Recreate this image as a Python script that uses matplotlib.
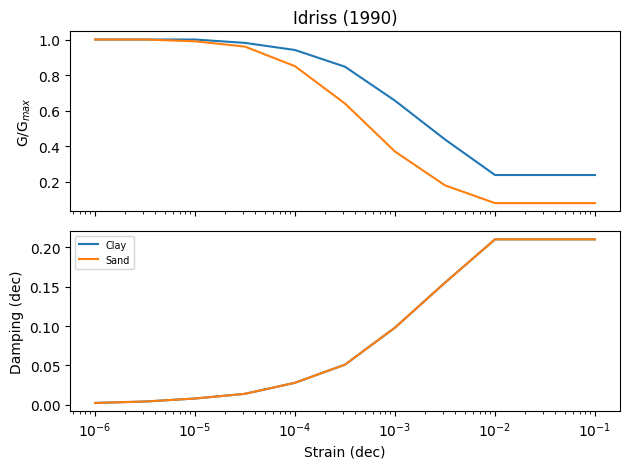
import matplotlib
matplotlib.use("Agg")
import matplotlib.pyplot as plt

# Idriss (1990) curves
strains = [1e-6, 3.16e-6, 1e-5, 3.16e-5, 1e-4, 3.16e-4, 1e-3, 3.16e-3, 1e-2, 1e-1]
clay_mod_reduc = [1.0, 1.0, 1.0, 0.981, 0.941, 0.847, 0.656, 0.438, 0.238, 0.238]
sand_mod_reduc = [1.0, 1.0, 0.99, 0.96, 0.85, 0.64, 0.37, 0.18, 0.08, 0.08]
clay_damping = [0.0024, 0.0042, 0.008, 0.014, 0.028, 0.051, 0.098, 0.155, 0.21, 0.21]
sand_damping = [0.0024, 0.0042, 0.008, 0.014, 0.028, 0.051, 0.098, 0.155, 0.21, 0.21]
names = ["Clay", "Sand"]


fig, axes = plt.subplots(2, 1, sharex=True, figsize=(6.4, 4.8), dpi=100)

axes[0].plot(strains, clay_mod_reduc, label=names[0])
axes[0].plot(strains, sand_mod_reduc, label=names[1])
axes[0].set_ylabel("G/G$_{max}$")
axes[0].set_title("Idriss (1990)")

axes[1].plot(strains, clay_damping, label=names[0])
axes[1].plot(strains, sand_damping, label=names[1])
axes[1].set_ylabel("Damping (dec)")
axes[1].legend(loc="upper left", fontsize="x-small")

axes[1].set_xscale("log")
axes[1].set_xlabel("Strain (dec)")

fig.tight_layout()
fig.savefig("out.png", bbox_inches="tight")
